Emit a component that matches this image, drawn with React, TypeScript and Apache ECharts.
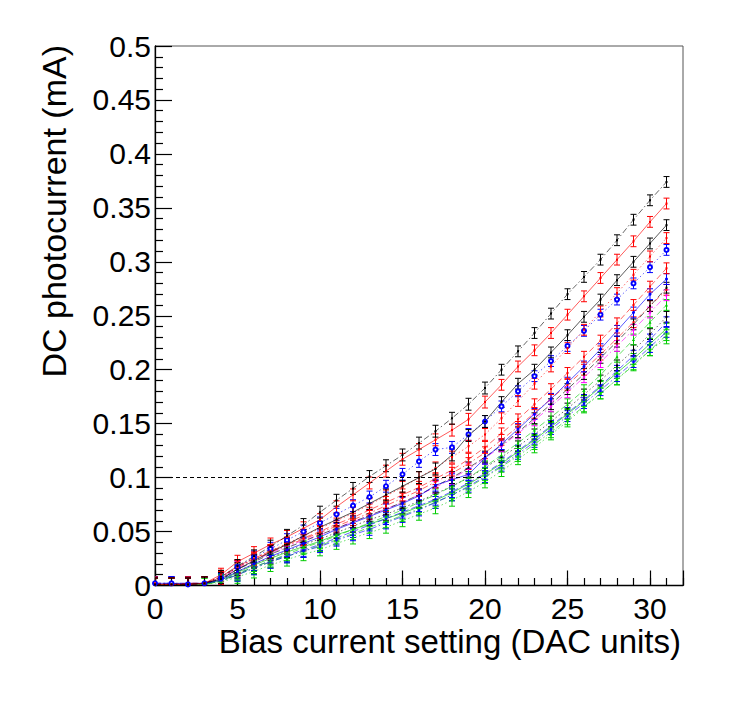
import React, { useEffect, useRef } from "react";
import * as echarts from "echarts";

// x positions (DAC units)
const xs = [0, 1, 2, 3, 4, 5, 6, 7, 8, 9, 10, 11, 12, 13, 14, 15, 16, 17, 18, 19, 20, 21, 22, 23, 24, 25, 26, 27, 28, 29, 30, 31];

// typical half-height of the error bars at each x (mA)
const errs = [0.006, 0.006, 0.006, 0.006, 0.006, 0.006, 0.006, 0.006, 0.006, 0.006, 0.0055, 0.0055, 0.0055, 0.0055, 0.0055, 0.0055, 0.0055, 0.0055, 0.0055, 0.0055, 0.0055, 0.005, 0.005, 0.005, 0.005, 0.005, 0.005, 0.005, 0.005, 0.005, 0.005, 0.005];

const s1 = [0.001, 0.001, 0.001, 0.002, 0.008, 0.018, 0.027, 0.036, 0.046, 0.056, 0.068, 0.079, 0.090, 0.101, 0.111, 0.121, 0.132, 0.143, 0.155, 0.168, 0.183, 0.200, 0.217, 0.234, 0.252, 0.270, 0.286, 0.302, 0.320, 0.339, 0.357, 0.374];
const s2 = [0.001, 0.001, 0.001, 0.002, 0.010, 0.022, 0.030, 0.038, 0.045, 0.053, 0.061, 0.073, 0.084, 0.095, 0.106, 0.117, 0.126, 0.135, 0.144, 0.154, 0.170, 0.186, 0.203, 0.218, 0.234, 0.251, 0.268, 0.285, 0.302, 0.319, 0.337, 0.354];
const s3 = [0.001, 0.001, 0.001, 0.002, 0.006, 0.015, 0.023, 0.031, 0.038, 0.046, 0.054, 0.061, 0.068, 0.076, 0.084, 0.092, 0.100, 0.108, 0.121, 0.139, 0.152, 0.170, 0.187, 0.200, 0.216, 0.232, 0.249, 0.265, 0.283, 0.300, 0.317, 0.334];
const s4 = [0.002, 0.001, 0.001, 0.002, 0.007, 0.017, 0.025, 0.032, 0.039, 0.046, 0.053, 0.060, 0.067, 0.075, 0.083, 0.091, 0.100, 0.109, 0.119, 0.129, 0.140, 0.155, 0.171, 0.187, 0.203, 0.220, 0.237, 0.254, 0.271, 0.288, 0.305, 0.322];
const s5 = [0.002, 0.002, 0.001, 0.002, 0.007, 0.017, 0.026, 0.034, 0.042, 0.050, 0.058, 0.066, 0.074, 0.082, 0.092, 0.103, 0.115, 0.126, 0.128, 0.140, 0.152, 0.166, 0.180, 0.194, 0.208, 0.222, 0.236, 0.251, 0.265, 0.280, 0.295, 0.311];
const s6 = [0.001, 0.001, 0.002, 0.002, 0.008, 0.018, 0.025, 0.032, 0.038, 0.044, 0.050, 0.057, 0.063, 0.070, 0.077, 0.084, 0.091, 0.099, 0.107, 0.117, 0.128, 0.141, 0.154, 0.168, 0.182, 0.197, 0.212, 0.227, 0.243, 0.260, 0.277, 0.294];
const s7 = [0.002, 0.002, 0.002, 0.002, 0.005, 0.013, 0.020, 0.027, 0.033, 0.039, 0.045, 0.052, 0.058, 0.064, 0.070, 0.076, 0.083, 0.093, 0.098, 0.103, 0.118, 0.131, 0.145, 0.159, 0.173, 0.188, 0.203, 0.219, 0.236, 0.253, 0.270, 0.284];
const s8 = [0.001, 0.001, 0.001, 0.002, 0.006, 0.015, 0.022, 0.029, 0.035, 0.041, 0.047, 0.053, 0.059, 0.065, 0.071, 0.077, 0.084, 0.092, 0.100, 0.109, 0.119, 0.130, 0.142, 0.155, 0.168, 0.182, 0.196, 0.211, 0.226, 0.242, 0.259, 0.276];
const s9 = [0.001, 0.001, 0.001, 0.002, 0.007, 0.016, 0.023, 0.030, 0.036, 0.042, 0.047, 0.053, 0.059, 0.065, 0.071, 0.077, 0.084, 0.091, 0.099, 0.108, 0.118, 0.129, 0.141, 0.153, 0.166, 0.179, 0.193, 0.207, 0.222, 0.237, 0.253, 0.269];
const s10 = [0.001, 0.001, 0.002, 0.001, 0.004, 0.011, 0.017, 0.023, 0.029, 0.035, 0.040, 0.046, 0.052, 0.058, 0.064, 0.070, 0.077, 0.084, 0.092, 0.100, 0.110, 0.121, 0.132, 0.144, 0.156, 0.168, 0.181, 0.195, 0.212, 0.228, 0.244, 0.260];
const s11 = [0.002, 0.002, 0.001, 0.002, 0.004, 0.011, 0.017, 0.023, 0.028, 0.033, 0.038, 0.044, 0.050, 0.056, 0.062, 0.068, 0.074, 0.080, 0.087, 0.095, 0.104, 0.114, 0.125, 0.136, 0.148, 0.160, 0.172, 0.185, 0.199, 0.213, 0.228, 0.244];
const s12 = [0.001, 0.001, 0.001, 0.001, 0.005, 0.012, 0.019, 0.025, 0.031, 0.036, 0.041, 0.047, 0.052, 0.057, 0.062, 0.067, 0.073, 0.079, 0.086, 0.094, 0.103, 0.113, 0.124, 0.135, 0.147, 0.159, 0.171, 0.184, 0.197, 0.210, 0.224, 0.238];
const s13 = [0.001, 0.001, 0.001, 0.002, 0.006, 0.013, 0.020, 0.026, 0.032, 0.038, 0.043, 0.049, 0.055, 0.061, 0.066, 0.072, 0.078, 0.085, 0.092, 0.100, 0.109, 0.119, 0.129, 0.140, 0.152, 0.164, 0.177, 0.190, 0.204, 0.218, 0.233, 0.249];
const s14 = [0.001, 0.001, 0.001, 0.001, 0.003, 0.008, 0.013, 0.019, 0.024, 0.029, 0.033, 0.039, 0.044, 0.049, 0.054, 0.060, 0.066, 0.072, 0.079, 0.087, 0.096, 0.106, 0.117, 0.128, 0.140, 0.152, 0.165, 0.178, 0.191, 0.205, 0.218, 0.229];
const s15 = [0.002, 0.002, 0.002, 0.002, 0.004, 0.010, 0.016, 0.022, 0.027, 0.032, 0.036, 0.042, 0.047, 0.052, 0.058, 0.064, 0.070, 0.077, 0.084, 0.092, 0.101, 0.111, 0.122, 0.133, 0.145, 0.157, 0.169, 0.181, 0.194, 0.207, 0.221, 0.235];
const s16 = [0.001, 0.001, 0.002, 0.002, 0.008, 0.017, 0.024, 0.031, 0.037, 0.043, 0.049, 0.055, 0.061, 0.067, 0.074, 0.081, 0.088, 0.096, 0.104, 0.113, 0.123, 0.135, 0.147, 0.160, 0.173, 0.186, 0.200, 0.214, 0.229, 0.244, 0.259, 0.274];
const s17 = [0.001, 0.001, 0.001, 0.001, 0.004, 0.010, 0.016, 0.022, 0.027, 0.032, 0.037, 0.043, 0.048, 0.054, 0.059, 0.065, 0.071, 0.077, 0.084, 0.091, 0.100, 0.110, 0.120, 0.131, 0.142, 0.154, 0.166, 0.178, 0.191, 0.204, 0.218, 0.232];

const THRESHOLD = 0.1;
const THRESHOLD_START = 0;
const THRESHOLD_END = 20;

const X_TITLE = "Bias current setting (DAC units)";
const Y_TITLE = "DC photocurrent (mA)";

const BLACK = "#000000";
const RED = "#ff0000";
const BLUE = "#0000ff";
const GREEN = "#00cc00";
const MAGENTA = "#ff00ff";

const SOLID: any = "solid";
const DASHED: any = [6, 3];
const DOTTED: any = [1.5, 2.5];
const DASHDOT: any = [6, 2.5, 1.5, 2.5];

const specs = [
  { name: "s14", data: s14, color: GREEN, dash: DOTTED, symbol: "circle", size: 2.5 },
  { name: "s17", data: s17, color: GREEN, dash: DASHDOT, symbol: "triangle", size: 3 },
  { name: "s15", data: s15, color: BLUE, dash: DASHDOT, symbol: "circle", size: 2.5 },
  { name: "s12", data: s12, color: GREEN, dash: SOLID, symbol: "circle", size: 2.5 },
  { name: "s11", data: s11, color: BLUE, dash: DASHED, symbol: "circle", size: 2.5 },
  { name: "s13", data: s13, color: BLACK, dash: DOTTED, symbol: "rect", size: 2 },
  { name: "s10", data: s10, color: GREEN, dash: DASHED, symbol: "triangle", size: 3 },
  { name: "s9", data: s9, color: MAGENTA, dash: DASHDOT, symbol: "circle", size: 2.5 },
  { name: "s16", data: s16, color: RED, dash: DASHDOT, symbol: "rect", size: 2 },
  { name: "s8", data: s8, color: BLACK, dash: DASHED, symbol: "rect", size: 2 },
  { name: "s7", data: s7, color: BLUE, dash: SOLID, symbol: "circle", size: 3 },
  { name: "s6", data: s6, color: RED, dash: DASHED, symbol: "rect", size: 2 },
  { name: "s5", data: s5, color: BLUE, dash: DOTTED, symbol: "emptyCircle", size: 4 },
  { name: "s4", data: s4, color: RED, dash: DOTTED, symbol: "rect", size: 2 },
  { name: "s3", data: s3, color: BLACK, dash: SOLID, symbol: "rect", size: 2 },
  { name: "s2", data: s2, color: RED, dash: SOLID, symbol: "rect", size: 2 },
  { name: "s1", data: s1, color: BLACK, dash: DASHDOT, symbol: "rect", size: 2 },
];

const FONT = '"Liberation Sans", Arial, Helvetica, sans-serif';

export default function App() {
  const ref = useRef<HTMLDivElement>(null);

  useEffect(() => {
    if (!ref.current) return;
    const chart = echarts.init(ref.current, null, { renderer: "svg" });

    const series: any[] = [];
    specs.forEach((sp, k) => {
      series.push({
        type: "custom",
        name: sp.name + "-err",
        xAxisIndex: 0,
        yAxisIndex: 0,
        clip: true,
        silent: true,
        z: 2,
        data: xs.map((x, i) => [x, sp.data[i] - errs[i], sp.data[i] + errs[i]]),
        encode: { x: 0, y: [1, 2] },
        renderItem: (params: any, api: any) => {
          const x = api.value(0);
          const p1 = api.coord([x, api.value(1)]);
          const p2 = api.coord([x, api.value(2)]);
          const cap = 3;
          const st = { stroke: sp.color, lineWidth: 1 };
          return {
            type: "group",
            children: [
              { type: "line", shape: { x1: p1[0], y1: p1[1], x2: p2[0], y2: p2[1] }, style: st },
              { type: "line", shape: { x1: p1[0] - cap, y1: p1[1], x2: p1[0] + cap, y2: p1[1] }, style: st },
              { type: "line", shape: { x1: p2[0] - cap, y1: p2[1], x2: p2[0] + cap, y2: p2[1] }, style: st },
            ],
          };
        },
      });
      const line: any = {
        type: "line",
        name: sp.name,
        xAxisIndex: 0,
        yAxisIndex: 0,
        data: xs.map((x, i) => [x, sp.data[i]]),
        symbol: sp.symbol,
        symbolSize: sp.size,
        showSymbol: true,
        showAllSymbol: true,
        silent: true,
        z: 3,
        lineStyle: { color: sp.color, width: 1, type: sp.dash, opacity: sp.dash === SOLID ? 0.65 : 0.6 },
        itemStyle: { color: sp.color, borderColor: sp.color, borderWidth: sp.symbol === "emptyCircle" ? 1 : 0 },
      };
      if (k === specs.length - 1) {
        line.markLine = {
          silent: true,
          symbol: "none",
          label: { show: false },
          lineStyle: { color: "#000", type: [4, 3], width: 1.2, opacity: 1 },
          data: [[{ coord: [THRESHOLD_START, THRESHOLD] }, { coord: [THRESHOLD_END, THRESHOLD] }]],
        };
      }
      series.push(line);
    });

    const gridBox = { left: 155, top: 46, width: 528, height: 539.5 };
    const labelStyle = { color: "#000", fontSize: 30, fontFamily: FONT };

    chart.setOption({
      animation: false,
      backgroundColor: "#ffffff",
      grid: [
        { ...gridBox, show: true, borderColor: "#555", borderWidth: 1, backgroundColor: "transparent", containLabel: false },
        { ...gridBox, show: false, containLabel: false },
      ],
      xAxis: [
        {
          gridIndex: 0,
          type: "value",
          min: 0,
          max: 32,
          interval: 5,
          axisLine: { show: true, onZero: false, lineStyle: { color: "#000", width: 1.3 } },
          axisTick: { show: true, inside: true, length: 15, lineStyle: { color: "#000", width: 1.2 } },
          minorTick: { show: false },
          splitLine: { show: false },
          axisLabel: {
            ...labelStyle,
            margin: 7.5,
            formatter: (v: number) => (v % 5 === 0 ? String(v) : ""),
          },
        },
        {
          gridIndex: 1,
          type: "value",
          min: 0,
          max: 32,
          interval: 1,
          axisLine: { show: false },
          axisTick: { show: true, inside: true, length: 7.5, lineStyle: { color: "#000", width: 1.2 } },
          axisLabel: { show: false },
          splitLine: { show: false },
        },
      ],
      yAxis: [
        {
          gridIndex: 0,
          type: "value",
          min: 0,
          max: 0.5,
          interval: 0.05,
          axisLine: { show: true, onZero: false, lineStyle: { color: "#000", width: 1.3 } },
          axisTick: { show: true, inside: true, length: 17, lineStyle: { color: "#000", width: 1.2 } },
          minorTick: { show: true, splitNumber: 5, length: 8, lineStyle: { color: "#000", width: 1.2 } },
          splitLine: { show: false },
          minorSplitLine: { show: false },
          axisLabel: { ...labelStyle, margin: 4 },
        },
        {
          gridIndex: 1,
          type: "value",
          min: 0,
          max: 0.5,
          show: false,
        },
      ],
      graphic: [
        {
          type: "text",
          x: 681,
          y: 641.5,
          silent: true,
          style: {
            text: X_TITLE,
            fill: "#000",
            font: `33px ${FONT}`,
            align: "right",
            verticalAlign: "middle",
            textAlign: "right",
            textVerticalAlign: "middle",
          },
        },
        {
          type: "text",
          x: 54,
          y: 45,
          rotation: Math.PI / 2,
          silent: true,
          style: {
            text: Y_TITLE,
            fill: "#000",
            font: `34px ${FONT}`,
            align: "right",
            verticalAlign: "middle",
            textAlign: "right",
            textVerticalAlign: "middle",
          },
        },
      ],
      series,
    });

    return () => chart.dispose();
  }, []);

  return (
    <div
      ref={ref}
      style={{ position: "fixed", left: 0, top: 0, width: 732, height: 711, background: "#fff" }}
    />
  );
}
